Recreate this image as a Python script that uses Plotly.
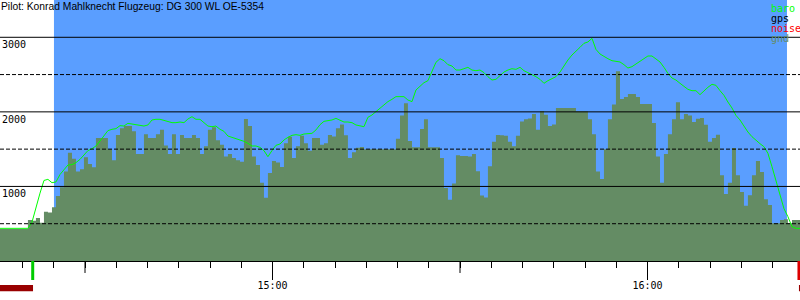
import pandas as pd
import plotly.graph_objects as go

# ---------------- data ----------------
DAY = "2000-01-01 "
view_start = DAY + "14:16:24"
view_end = DAY + "16:24:24"
sample_step_ms = 38400  # logger sample interval used for the series below

baro_alt = [
    438, 438, 438, 438, 438, 438, 438, 438, 520, 728,
    910, 1080, 1095, 1050, 1060, 1160, 1229, 1287, 1292, 1319,
    1363, 1421, 1480, 1506, 1542, 1609, 1676, 1748, 1766, 1775,
    1815, 1810, 1846, 1837, 1824, 1810, 1810, 1824, 1891, 1900,
    1900, 1886, 1873, 1855, 1855, 1864, 1855, 1904, 1935, 1900,
    1900, 1855, 1810, 1801, 1810, 1766, 1739, 1676, 1658, 1650,
    1623, 1605, 1578, 1542, 1542, 1524, 1480, 1399, 1480, 1551,
    1569, 1623, 1658, 1685, 1694, 1685, 1703, 1712, 1712, 1757,
    1828, 1873, 1882, 1891, 1913, 1891, 1864, 1864, 1855, 1824,
    1810, 1801, 1927, 1958, 2003, 2047, 2092, 2137, 2168, 2204,
    2204, 2204, 2159, 2137, 2293, 2347, 2391, 2418, 2539, 2664,
    2713, 2686, 2633, 2615, 2561, 2561, 2579, 2597, 2561, 2552,
    2561, 2526, 2472, 2427, 2436, 2481, 2534, 2561, 2579, 2570,
    2597, 2552, 2526, 2508, 2472, 2436, 2383, 2418, 2445, 2472,
    2534, 2624, 2695, 2762, 2820, 2865, 2919, 2937, 2986, 2838,
    2776, 2740, 2713, 2686, 2677, 2669, 2633, 2588, 2606, 2642,
    2677, 2722, 2749, 2749, 2713, 2669, 2597, 2517, 2454, 2427,
    2383, 2338, 2302, 2284, 2284, 2231, 2284, 2329, 2369, 2356,
    2284, 2222, 2132, 2052, 1953, 1891, 1810, 1730, 1667, 1614,
    1573, 1533, 1444, 1265, 1077, 907, 702, 595, 460, 438,
    438,
]

gnd_alt = [
    430, 430, 430, 430, 430, 430, 430, 550, 540, 577,
    514, 660, 650, 720, 870, 990, 1200, 1450, 1370, 1200,
    1230, 1390, 1300, 1256, 1650, 1650, 1650, 1500, 1350, 1690,
    1780, 1810, 1810, 1740, 1435, 1435, 1700, 1650, 1650, 1700,
    1760, 1550, 1435, 1700, 1435, 1690, 1650, 1650, 1690, 1650,
    1435, 1540, 1760, 1792, 1620, 1560, 1400, 1435, 1380, 1350,
    1330, 1905, 1810, 1400, 1287, 1050, 849, 1180, 1340, 1320,
    1261, 1580, 1667, 1380, 1540, 1680, 1580, 1480, 1650, 1650,
    1560, 1580, 1690, 1670, 1780, 1830, 1685, 1381, 1460, 1520,
    1530, 1497, 1497, 1497, 1497, 1497, 1497, 1497, 1497, 1640,
    1950, 2114, 1610, 1524, 1524, 1770, 1900, 1524, 1524, 1524,
    1380, 980, 820, 1040, 1417, 1408, 1408, 1400, 1435, 1205,
    880, 850, 1270, 1600, 1690, 1685, 1680, 1600, 1540, 1680,
    1870, 1900, 1910, 1971, 1760, 2010, 1960, 1810, 1830, 2052,
    2052, 2052, 2052, 2052, 2007, 2007, 2007, 1900, 1700, 1200,
    1100, 1500, 1900, 2100, 2543, 2172, 2200, 2239, 2239, 2200,
    2105, 2105, 2105, 1850, 1400, 1050, 1435, 1700, 1900, 2130,
    1900, 1971, 1950, 1864, 1909, 1918, 1828, 1600, 1650, 1694,
    1150, 900, 1050, 1515, 1150, 925, 740, 881, 1150, 1340,
    1193, 827, 750, 505, 505, 550, 560, 505, 550, 550,
    550,
]

task_window = [DAY + "14:25:02", DAY + "16:22:19"]   # blue band
takeoff_time = DAY + "14:21:38"
landing_time = DAY + "16:24:14"
noise_segments = [(DAY + "14:16:24", DAY + "14:21:41"), (DAY + "16:24:14", DAY + "16:24:24")]
hour_ticks = [DAY + "15:00", DAY + "16:00"]
half_hour_ticks = [DAY + "14:30", DAY + "15:30"]
solid_levels = [1000, 2000, 3000]
dashed_levels = [500, 1500, 2500]
title_text = "Pilot: Konrad Mahlknecht Flugzeug: DG 300 WL OE-5354"
legend_items = [("baro", "#00ff00"), ("gps", "#000000"), ("noise", "#ff0000"), ("gnd", "#648c64")]

# --------------- styles ---------------
BLUE = "#5a9eff"
GND = "#648c64"
BARO = "#00ff00"
MONO = "DejaVu Sans Mono"

times = list(pd.date_range(view_start, periods=len(gnd_alt) - 1, freq=f"{sample_step_ms}ms").strftime("%Y-%m-%d %H:%M:%S"))
times.append(view_end)

fig = go.Figure()

fig.add_trace(go.Scatter(
    x=times, y=gnd_alt, mode="lines", line=dict(width=0, shape="hv", color=GND),
    fill="tozeroy", fillcolor=GND, hoverinfo="skip", showlegend=False, xaxis="x", yaxis="y"))

fig.add_trace(go.Scatter(
    x=times, y=baro_alt, mode="lines", line=dict(width=1, color=BARO),
    hoverinfo="skip", showlegend=False, xaxis="x", yaxis="y"))

# noise strip (own small axis below the time axis)
for a, b in noise_segments:
    fig.add_trace(go.Scatter(
        x=[a, b], y=[1, 1], mode="lines", line=dict(width=0, color="#990000"),
        fill="tozeroy", fillcolor="#990000", hoverinfo="skip", showlegend=False,
        xaxis="x", yaxis="y2"))

# takeoff / landing markers (own small axis)
for t, c in [(takeoff_time, "#00cc00"), (landing_time, "#dd0000")]:
    fig.add_trace(go.Scatter(
        x=[t, t], y=[0, 1], mode="lines", line=dict(width=3, color=c),
        hoverinfo="skip", showlegend=False, xaxis="x", yaxis="y3"))

shapes = []
shapes.append(dict(type="rect", xref="x", yref="y", x0=task_window[0], x1=task_window[1],
                   y0=0, y1=3500, fillcolor=BLUE, line=dict(width=0), layer="below"))
for lv in solid_levels:
    shapes.append(dict(type="line", xref="paper", yref="y", x0=0, x1=1, y0=lv, y1=lv,
                       line=dict(color="black", width=1), layer="above"))
for lv in dashed_levels:
    shapes.append(dict(type="line", xref="paper", yref="y", x0=0, x1=1, y0=lv, y1=lv,
                       line=dict(color="black", width=1, dash="4px,2px"), layer="above"))
for t in hour_ticks:
    shapes.append(dict(type="line", xref="x", yref="y3", x0=t, x1=t, y0=1, y1=0,
                       line=dict(color="black", width=1)))
for t in half_hour_ticks:
    shapes.append(dict(type="line", xref="x", yref="y3", x0=t, x1=t, y0=1, y1=0.37,
                       line=dict(color="black", width=1)))

annotations = [dict(text=title_text, xref="paper", yref="paper", x=0, y=1, xanchor="left",
                    yanchor="top", showarrow=False, font=dict(family="Liberation Sans", size=10.3, color="black"),
                    borderpad=0)]
for i, (name, col) in enumerate(legend_items):
    annotations.append(dict(text=name, xref="paper", yref="paper", x=770 / 800, y=1 - (2 + i * 10) / 300,
                            xanchor="left", yanchor="top", showarrow=False, borderpad=0,
                            font=dict(family=MONO, size=10, color=col)))
for lv in solid_levels:
    annotations.append(dict(text=str(lv), xref="paper", yref="y", x=0, y=lv, xanchor="left",
                            yanchor="top", showarrow=False, borderpad=1,
                            font=dict(family=MONO, size=10, color="black")))

fig.update_layout(
    width=800, height=300, margin=dict(l=0, r=0, t=0, b=0),
    paper_bgcolor="white", plot_bgcolor="white",
    shapes=shapes, annotations=annotations,
    xaxis=dict(type="date", range=[view_start, view_end], anchor="y", showgrid=False, zeroline=False,
               showline=True, linecolor="black", linewidth=1,
               tickmode="linear", tick0=DAY + "14:00", dtick=3600000, tickformat="%H:%M",
               ticks="outside", ticklen=15, tickcolor="black", tickwidth=1,
               tickfont=dict(family=MONO, size=10, color="black"),
               minor=dict(tick0=DAY + "14:00", dtick=300000, ticks="outside", ticklen=6,
                          tickcolor="black", tickwidth=1, showgrid=False)),
    yaxis=dict(domain=[0.13, 1], range=[0, 3500], visible=False, fixedrange=True),
    yaxis2=dict(domain=[8.5 / 300, 15 / 300], range=[0, 1], visible=False, anchor="x"),
    yaxis3=dict(domain=[20 / 300, 0.13], range=[0, 1], visible=False, anchor="x"),
)

fig.write_html("out.html")
